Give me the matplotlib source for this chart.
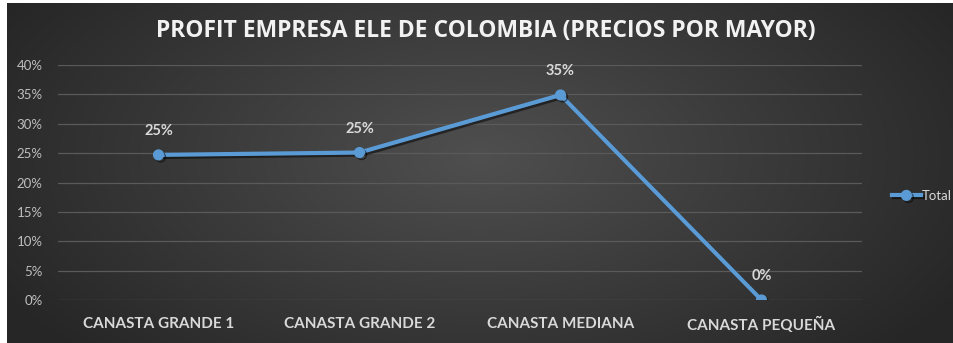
import numpy as np
import matplotlib
matplotlib.use('Agg')
import matplotlib.pyplot as plt
import matplotlib.patheffects as pe

categories = ["CANASTA GRANDE 1", "CANASTA GRANDE 2", "CANASTA MEDIANA", "CANASTA PEQUEÑA"]
profit = [0.247, 0.251, 0.349, 0.0]
labels = ["25%", "25%", "35%", "0%"]
yticks = [0, 0.05, 0.10, 0.15, 0.20, 0.25, 0.30, 0.35, 0.40]

dpi = 100
fig = plt.figure(figsize=(954/dpi, 343/dpi), dpi=dpi)
fig.patch.set_facecolor('white')

# radial gradient background
bg = fig.add_axes([7/954, 0, 947/954, 340/343])
bg.set_axis_off()
yy, xx = np.mgrid[0:1:200j, 0:1:500j]
r = np.sqrt(((xx - 0.5) / 0.62) ** 2 + ((yy - 0.45) / 0.9) ** 2)
shade = np.clip(0.31 - 0.17 * r, 0.15, 0.31)
img = np.dstack([shade, shade, shade])
bg.imshow(img, aspect='auto', extent=[0, 1, 0, 1], interpolation='bilinear')

ax = fig.add_axes([58/954, (343-300)/343, (862-58)/954, 235/343])
ax.patch.set_alpha(0)
x = np.arange(len(categories))
line, = ax.plot(x, profit, color='#5b9bd5', lw=3, marker='o', ms=7,
                solid_joinstyle='round', label='Total',
                path_effects=[pe.SimpleLineShadow(offset=(1.5, -1.5), alpha=0.5, shadow_color='black'),
                              pe.Normal()])
for xi, v, t in zip(x, profit, labels):
    ax.annotate(t, (xi, v), xytext=(0, 12), textcoords='offset points', ha='center',
                va='bottom', color='#d9d9d9', fontsize=10.5, fontweight='bold', family='Lato')

ax.set_xlim(-0.5, len(categories) - 0.5)
ax.set_ylim(0, 0.40)
ax.set_yticks(yticks)
ax.set_yticklabels([f"{int(round(t*100))}%" for t in yticks], color='#bfbfbf', fontsize=9.5, family='Lato')
ax.set_xticks(x)
ax.set_xticklabels(categories, color='#d9d9d9', fontsize=11, fontweight='bold', family='Lato')
ax.tick_params(length=0, pad=12)
ax.tick_params(axis='y', pad=11)
ax.grid(axis='y', color='#5a5a5a', lw=0.9)
for s in ax.spines.values():
    s.set_visible(False)

leg = fig.legend(handles=[line], loc='center left', bbox_to_anchor=(880/954, 1 - 196/343),
                 frameon=False, handlelength=2.2, handletextpad=0.1,
                 prop={'family': 'Lato', 'size': 9.5})
for t in leg.get_texts():
    t.set_color('#d9d9d9')

fig.text(486/954, 1 - 31/343, "PROFIT EMPRESA ELE DE COLOMBIA (PRECIOS POR MAYOR)",
         ha='center', va='center', color='#f2f2f2', fontsize=16.5, fontweight='bold',
         family='Open Sans')

fig.savefig('out.png', dpi=dpi, facecolor=fig.get_facecolor())
